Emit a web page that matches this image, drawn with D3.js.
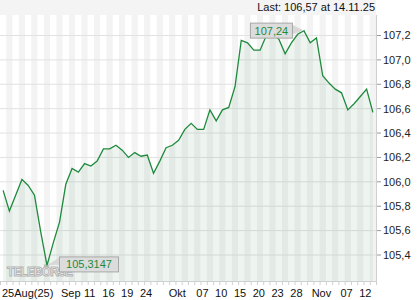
<!DOCTYPE html>
<html>
<head>
<meta charset="utf-8">
<script src="https://cdn.jsdelivr.net/npm/d3@7"></script>
<style>
  body { margin: 0; background: #fff; }
  text { font-family: "Liberation Sans", Arial, sans-serif; }
</style>
</head>
<body>
<div id="chart"></div>
<script>
// business days 25.08.2025 - 14.11.2025
const dates = d3.timeDay.range(new Date(2025, 7, 25), new Date(2025, 10, 15))
    .filter(d => d.getDay() !== 0 && d.getDay() !== 6);

const values = [
    105.93, 105.76, 105.89, 106.02, 105.97, 105.89, 105.59, 105.3147, 105.50, 105.67,
    105.98, 106.11, 106.08, 106.15, 106.13, 106.17, 106.27, 106.27, 106.30, 106.26,
    106.20, 106.24, 106.21, 106.22, 106.07, 106.17, 106.28, 106.30, 106.34, 106.43,
    106.48, 106.43, 106.43, 106.59, 106.50, 106.59, 106.61, 106.78, 107.16, 107.14,
    107.08, 107.08, 107.20, 107.21, 107.17, 107.05, 107.14, 107.21, 107.24, 107.14,
    107.18, 106.87, 106.81, 106.76, 106.73, 106.59, 106.64, 106.70, 106.76, 106.57
];

const yTicks = [105.4, 105.6, 105.8, 106.0, 106.2, 106.4, 106.6, 106.8, 107.0, 107.2];

// x-axis labels: [date, label]
const xLabels = [
    ["2025-08-25", "25Aug(25)"], ["2025-09-08", "Sep"], ["2025-09-11", "11"],
    ["2025-09-16", "16"], ["2025-09-19", "19"], ["2025-09-24", "24"],
    ["2025-10-01", "Okt"], ["2025-10-07", "07"], ["2025-10-10", "10"],
    ["2025-10-15", "15"], ["2025-10-20", "20"], ["2025-10-23", "23"],
    ["2025-10-28", "28"], ["2025-11-03", "Nov"], ["2025-11-07", "07"],
    ["2025-11-12", "12"]
];

const lastText = "Last: 106,57 at 14.11.25";
const fmt = v => String(v).replace(".", ",");
const key = d3.timeFormat("%Y-%m-%d");

const W = 420, H = 300;
const plot = { left: 0, right: 376, top: 15, bottom: 281 };
const green = "#1e8a3c";

const svg = d3.select("#chart").append("svg")
    .attr("width", W).attr("height", H);

const x = d3.scaleBand()
    .domain(dates.map(key))
    .range([plot.left, plot.right]);
const cx = d => x(d) + x.bandwidth() / 2;

const y = d3.scaleLinear()
    .domain([105.4, 107.2])
    .range([255, 35.5]);

// header band
svg.append("rect")
    .attr("x", 0).attr("y", 0)
    .attr("width", plot.right).attr("height", plot.top)
    .attr("fill", "#f4f4f4");

svg.append("text")
    .attr("x", plot.right - 1).attr("y", 11)
    .attr("text-anchor", "end")
    .style("font-size", "11px")
    .style("fill", "#111")
    .text(lastText);

// day stripes
svg.append("g").selectAll("rect")
    .data(dates.map(key))
    .enter().append("rect")
    .attr("x", d => x(d))
    .attr("y", plot.top)
    .attr("width", x.bandwidth())
    .attr("height", plot.bottom - plot.top)
    .attr("fill", (d, i) => i % 2 ? "#f3f3f3" : "#ffffff");

// grid lines
svg.append("g").selectAll("line")
    .data(yTicks)
    .enter().append("line")
    .attr("x1", plot.left).attr("x2", plot.right)
    .attr("y1", d => y(d)).attr("y2", d => y(d))
    .attr("stroke", "#e2e2e2");

const pts = dates.map((d, i) => [cx(key(d)), y(values[i])]);

// area
svg.append("path")
    .datum(pts)
    .attr("fill", "rgba(40,130,60,0.08)")
    .attr("d", d3.area().x(d => d[0]).y0(plot.bottom).y1(d => d[1]));

// watermark
svg.append("text")
    .attr("x", 7).attr("y", 276)
    .attr("textLength", 66)
    .style("font-size", "12px")
    .style("font-weight", "bold")
    .style("fill", "#fff")
    .style("stroke", "#b4b4b4")
    .style("stroke-width", 1)
    .text("TELEBÖRSE");

// line
svg.append("path")
    .datum(pts)
    .attr("fill", "none")
    .attr("stroke", green)
    .attr("stroke-width", 1.3)
    .attr("d", d3.line());

// right axis
svg.append("line")
    .attr("x1", plot.right + 0.5).attr("x2", plot.right + 0.5)
    .attr("y1", plot.top).attr("y2", plot.bottom + 4)
    .attr("stroke", "#d0d0d0");

const ya = svg.append("g").selectAll("g")
    .data(yTicks)
    .enter().append("g")
    .attr("transform", d => `translate(0,${y(d)})`);
ya.append("line")
    .attr("x1", plot.right + 1).attr("x2", plot.right + 5)
    .attr("stroke", "#999");
ya.append("text")
    .attr("x", plot.right + 7).attr("dy", "0.35em")
    .style("font-size", "11px")
    .style("fill", "#222")
    .text(d => fmt(d.toFixed(1)));

// bottom axis
svg.append("line")
    .attr("x1", plot.left).attr("x2", plot.right)
    .attr("y1", plot.bottom + 0.5).attr("y2", plot.bottom + 0.5)
    .attr("stroke", "#d0d0d0");

svg.append("g").selectAll("line")
    .data(dates.map(key))
    .enter().append("line")
    .attr("x1", d => x(d) + 0.5).attr("x2", d => x(d) + 0.5)
    .attr("y1", plot.bottom + 1).attr("y2", plot.bottom + 4)
    .attr("stroke", "#d0d0d0");

svg.append("g").selectAll("text")
    .data(xLabels)
    .enter().append("text")
    .attr("x", (d, i) => i === 0 ? 2 : cx(d[0]) + 5)
    .attr("y", 297)
    .attr("text-anchor", (d, i) => i === 0 ? "start" : "middle")
    .style("font-size", "11px")
    .style("fill", "#111")
    .text(d => d[1]);

// max / min labels
const iMax = d3.maxIndex(values), iMin = d3.minIndex(values);
const pMax = pts[iMax], pMin = pts[iMin];

const maxBox = { x: pMax[0] - 54, y: pMax[1] - 8, w: 42, h: 15 };
svg.append("path")
    .attr("d", `M${maxBox.x + maxBox.w},${maxBox.y + 2}L${pMax[0]},${pMax[1]}L${maxBox.x + maxBox.w},${maxBox.y + 12}Z`)
    .attr("fill", "#d8d8d8");
svg.append("rect")
    .attr("x", maxBox.x + 0.5).attr("y", maxBox.y + 0.5)
    .attr("width", maxBox.w).attr("height", maxBox.h)
    .attr("fill", "#dcdcdc").attr("stroke", "#a8a8a8");
svg.append("text")
    .attr("x", maxBox.x + maxBox.w / 2 + 0.5).attr("y", maxBox.y + 12)
    .attr("text-anchor", "middle")
    .style("font-size", "11px")
    .style("fill", green)
    .text(fmt(values[iMax]));

const minBox = { x: pMin[0] + 12, y: pMin[1] - 9, w: 59, h: 15 };
svg.append("path")
    .attr("d", `M${minBox.x},${minBox.y + 1}L${pMin[0]},${pMin[1]}L${minBox.x},${minBox.y + 8}Z`)
    .attr("fill", "#d8d8d8");
svg.append("rect")
    .attr("x", minBox.x + 0.5).attr("y", minBox.y + 0.5)
    .attr("width", minBox.w).attr("height", minBox.h)
    .attr("fill", "#dcdcdc").attr("stroke", "#a8a8a8");
svg.append("text")
    .attr("x", minBox.x + minBox.w / 2 + 0.5).attr("y", minBox.y + 12)
    .attr("text-anchor", "middle")
    .style("font-size", "11px")
    .style("fill", green)
    .text(fmt(values[iMin]));
</script>
</body>
</html>
